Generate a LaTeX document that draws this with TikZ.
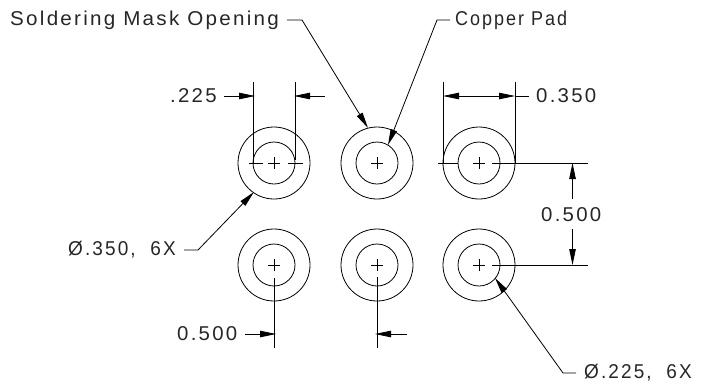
\documentclass[tikz,border=0pt]{standalone}
\usepackage{fontspec}
\setmainfont{Liberation Sans}[LetterSpace=11]
\usetikzlibrary{arrows.meta}
\newcommand{\stretchtxt}[2]{\scalebox{#1}[1]{#2}}
\tikzset{
  lbl/.style={inner sep=0pt,font=\fontsize{20}{20}\selectfont,text=black!85},
  ln/.style={line width=0.8pt,black},
  dim/.style={ln,-{Triangle[length=16pt,width=6.5pt]}},
  pad/.style={ln,circle,draw,minimum size=42pt,inner sep=0pt},
  mask/.style={ln,circle,draw,minimum size=72pt,inner sep=0pt},
}
\begin{document}
\begin{tikzpicture}[x=1pt,y=-1pt]
\useasboundingbox (0,0) rectangle (711,386);
\foreach \n/\x/\y in {a/274/163,b/377/163,c/479/163,d/274/265,e/377/265,f/479/265}{
  \coordinate (c\n) at (\x,\y);
  \node[mask] (m\n) at (c\n) {};
  \node[pad] (p\n) at (c\n) {};
  \draw[ln] ([xshift=-6pt]c\n) -- ([xshift=6pt]c\n) ([yshift=-6pt]c\n) -- ([yshift=6pt]c\n);
}
% labels
\node[lbl,anchor=west] (tsm) at (10,20) {\stretchtxt{1.03}{Soldering Mask Opening}};
\node[lbl,anchor=west] (tcp) at (455,20) {\stretchtxt{0.90}{Copper Pad}};
\node[lbl,anchor=west] (t225) at (170,96) {\stretchtxt{1.02}{.225}};
\node[lbl,anchor=west] (t350) at (536,96) {\stretchtxt{1.02}{0.350}};
\node[lbl,anchor=west] (t500r) at (541,215) {\stretchtxt{1.02}{0.500}};
\node[lbl,anchor=west] (t500b) at (177,334) {\stretchtxt{1.02}{0.500}};
\node[lbl,anchor=west] (tph350) at (68,250) {\stretchtxt{0.95}{Ø.350,\ \ 6X}};
\node[lbl,anchor=west] (tph225) at (584,373) {\stretchtxt{0.95}{Ø.225,\ \ 6X}};
% named points
\coordinate (sm0) at (287,20); \coordinate (sm1) at (302,20); \coordinate (sm2) at (368,128);
\coordinate (cp0) at (450,20); \coordinate (cp1) at (437,20); \coordinate (cp2) at (388,145);
\coordinate (ph0) at (184,250); \coordinate (ph1) at (198,250); \coordinate (ph2) at (254,192);
\coordinate (pi0) at (576,373); \coordinate (pi1) at (563,373); \coordinate (pi2) at (495,278);
% leaders
\draw[dim] (sm0) -- (sm1) -- (sm2);
\draw[dim] (cp0) -- (cp1) -- (cp2);
\draw[dim] (ph0) -- (ph1) -- (ph2);
\draw[dim] (pi0) -- (pi1) -- (pi2);
% .225 dimension
\coordinate (e1) at (253.5,82); \coordinate (e2) at (295.7,82);
\coordinate (e1b) at (253.5,163); \coordinate (e2b) at (295.7,160);
\draw[ln] (e1) -- (e1b); \draw[ln] (e2) -- (e2b);
\draw[dim] (224,96) -- (255,96);
\draw[dim] (325,96) -- (294,96);
\draw[ln] (249,163) -- (263,163) (288,163) -- (303,163);
% 0.350 dimension
\coordinate (f1) at (443,82); \coordinate (f2) at (515,82);
\coordinate (f1b) at (443,163); \coordinate (f2b) at (515,163);
\draw[ln] (f1) -- (f1b); \draw[ln] (f2) -- (f2b);
\draw[dim] (479,96) -- (443,96);
\draw[dim] (479,96) -- (515,96);
\draw[ln] (515,96) -- (529,96);
\draw[ln] (438,163) -- (458,163) (492,163) -- (588,163);
% right 0.500
\draw[ln] (492,265) -- (588,265);
\draw[dim] (572.5,199) -- (572.5,163);
\draw[dim] (572.5,229) -- (572.5,265);
% bottom 0.500
\draw[ln] (274.5,278) -- (274.5,348);
\draw[ln] (377,277) -- (377,348);
\draw[dim] (245,334) -- (276,334);
\draw[dim] (407,334) -- (375,334);
\end{tikzpicture}
\end{document}
